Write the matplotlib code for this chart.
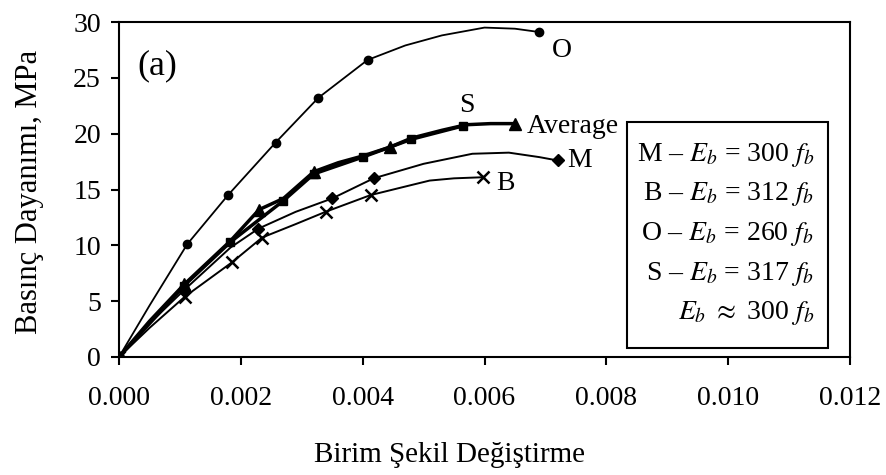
import matplotlib
matplotlib.use("Agg")
import matplotlib.pyplot as plt
from matplotlib.patches import Rectangle

plt.rcParams['font.family'] = ['Liberation Serif', 'DejaVu Serif']
plt.rcParams['mathtext.fontset'] = 'stix'

# O series (circles)
o_x = [0, 0.0005, 0.00112, 0.00179, 0.00257, 0.00327, 0.00408, 0.0047, 0.0053, 0.0060, 0.0065, 0.0069]
o_y = [0, 4.6, 10.1, 14.5, 19.2, 23.2, 26.6, 27.9, 28.8, 29.5, 29.4, 29.1]
o_mk = [0, 2, 3, 4, 5, 6, 11]

# S series (squares)
s_x = [0, 0.00107, 0.00183, 0.0027, 0.0032, 0.0040, 0.0048, 0.00565]
s_y = [0, 6.4, 10.3, 14.0, 16.4, 17.9, 19.5, 20.7]

# Average (triangles)
avg_x = [0, 0.0005, 0.00107, 0.00183, 0.0023, 0.0027, 0.0032, 0.0036, 0.0040, 0.00445, 0.0048, 0.0053, 0.0057, 0.0061, 0.0065]
avg_y = [0, 3.2, 6.5, 10.4, 13.2, 14.2, 16.6, 17.4, 18.0, 18.8, 19.6, 20.3, 20.8, 20.9, 20.9]
avg_mk = [0, 2, 4, 6, 9, 14]

# M series (diamonds)
m_x = [0, 0.0005, 0.00107, 0.00183, 0.00229, 0.0029, 0.0035, 0.00418, 0.0050, 0.0058, 0.0064, 0.0069, 0.0072]
m_y = [0, 3.0, 6.0, 9.8, 11.5, 13.0, 14.2, 16.0, 17.3, 18.2, 18.3, 17.9, 17.6]
m_mk = [0, 2, 4, 6, 7, 12]

# B series (x)
b_x = [0, 0.0005, 0.00108, 0.00186, 0.00235, 0.0029, 0.00339, 0.00413, 0.0048, 0.0051, 0.0055, 0.00598]
b_y = [0, 2.6, 5.4, 8.5, 10.7, 11.9, 13.0, 14.5, 15.4, 15.8, 16.0, 16.1]
b_mk = [0, 2, 3, 4, 6, 7, 11]

x_ticks = [0.000, 0.002, 0.004, 0.006, 0.008, 0.010, 0.012]
y_ticks = [0, 5, 10, 15, 20, 25, 30]

legend_lines = [r'M – $E_b$ = 300 $f_b$', r'B – $E_b$ = 312 $f_b$',
                r'O – $E_b$ = 260 $f_b$', r'S – $E_b$ = 317 $f_b$',
                r'$E_b$ $\approx$ 300 $f_b$']

W, H = 886, 475
fig = plt.figure(figsize=(W / 100, H / 100), dpi=100)
ax = fig.add_axes([119 / W, 1 - 357 / H, (850 - 119) / W, (357 - 22) / H])

k = 'black'
ax.plot(o_x, o_y, color=k, lw=1.3, marker='o', ms=6, markevery=o_mk, zorder=3)
ax.plot(s_x, s_y, color=k, lw=2.5, marker='s', ms=6, zorder=3)
ax.plot(avg_x, avg_y, color=k, lw=2.5, marker='^', ms=9, markevery=avg_mk, zorder=3)
ax.plot(m_x, m_y, color=k, lw=1.4, marker='D', ms=6, markevery=m_mk, zorder=3)
ax.plot(b_x, b_y, color=k, lw=1.4, marker='x', ms=8, mew=1.8, markevery=b_mk, zorder=3)

ax.set_xlim(0, 0.012)
ax.set_ylim(0, 30)
ax.set_xticks(x_ticks)
ax.set_xticklabels(['%.3f' % v for v in x_ticks])
ax.set_yticks(y_ticks)
ax.tick_params(axis='x', direction='out', length=6, width=1.5, pad=15, labelsize=20)
ax.tick_params(axis='y', direction='out', length=6, width=1.5, pad=7, labelsize=20)
for sp in ax.spines.values():
    sp.set_linewidth(1.5)

fig.text(30 / W, 1 - 192 / H, 'Basınç Dayanımı, MPa', rotation=90, ha='center', va='center', fontsize=22)
fig.text(449 / W, 1 - 455 / H, 'Birim Şekil Değiştirme', ha='center', va='center', fontsize=21)

ax.text(0.0003, 26.1, '(a)', fontsize=26, ha='left', va='center')
ax.text(0.00727, 26.9, 'O', fontsize=20, ha='center', va='baseline')
ax.text(0.00571, 21.9, 'S', fontsize=20, ha='center', va='baseline')
ax.text(0.0067, 20.05, 'Average', fontsize=20, ha='left', va='baseline')
ax.text(0.00735, 17.0, 'M', fontsize=20, ha='left', va='baseline')
ax.text(0.0062, 14.95, 'B', fontsize=20, ha='left', va='baseline')

fig.patches.append(Rectangle((627 / W, 1 - 348 / H), (828 - 627) / W, (348 - 122) / H,
                             transform=fig.transFigure, fill=True, facecolor='white',
                             edgecolor='black', lw=1.5, zorder=5))
for i, s in enumerate(legend_lines):
    fig.text(814 / W, 1 - (155 + 39.5 * i) / H, s, ha='right', va='center', fontsize=20, zorder=6)

fig.savefig('out.png', dpi=100)
